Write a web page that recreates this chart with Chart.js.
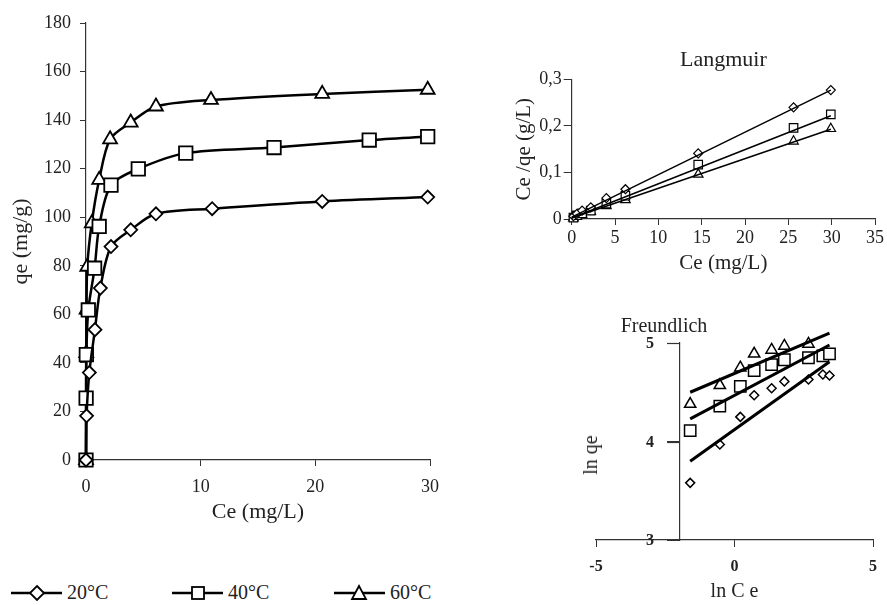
<!DOCTYPE html>
<html>
<head>
<meta charset="utf-8">
<script src="https://cdn.jsdelivr.net/npm/chart.js@4.4.1/dist/chart.umd.min.js"></script>
<style>
  body { margin: 0; background: #fff; width: 887px; height: 605px; position: relative; overflow: hidden; font-family: "Liberation Serif", serif; color: #222; }
  canvas { position: absolute; }
  #main { left: 0; top: 0; }
  #lang { left: 480px; top: 40px; }
  #freu { left: 560px; top: 300px; }
  .t { position: absolute; transform: translate(-50%, -50%); white-space: nowrap; line-height: 1; }
  .leg { position: absolute; top: 583px; height: 20px; }
  .leg span { position: absolute; left: 56px; top: -1px; font-size: 20px; line-height: 20px; }
</style>
</head>
<body>
<canvas id="main" width="460" height="530"></canvas>
<canvas id="lang" width="407" height="250"></canvas>
<canvas id="freu" width="327" height="305"></canvas>

<div class="t" style="left:664px;top:325px;font-size:20px">Freundlich</div>
<div class="t" style="left:590px;top:455px;font-size:20px;transform:translate(-50%,-50%) rotate(-90deg)">ln qe</div>

<div class="leg" style="left:11px">
  <svg width="52" height="20"><line x1="0" y1="10" x2="51" y2="10" stroke="#000" stroke-width="2.5"/><polygon points="26,3 33,10 26,17 19,10" fill="#fff" stroke="#000" stroke-width="1.8"/></svg>
  <span>20°C</span>
</div>
<div class="leg" style="left:172px">
  <svg width="52" height="20"><line x1="0" y1="10" x2="51" y2="10" stroke="#000" stroke-width="2.5"/><rect x="20" y="4" width="12" height="12" fill="#fff" stroke="#000" stroke-width="1.8"/></svg>
  <span>40°C</span>
</div>
<div class="leg" style="left:334px">
  <svg width="52" height="20"><line x1="0" y1="10" x2="51" y2="10" stroke="#000" stroke-width="2.5"/><polygon points="25,3 32,16 18,16" fill="#fff" stroke="#000" stroke-width="1.8"/></svg>
  <span>60°C</span>
</div>

<script>
// isotherms qe vs Ce
const ce20 = [0, 0.05, 0.29, 0.78, 1.25, 2.18, 3.9, 6.1, 11.0, 20.6, 29.8];
const qe20 = [0, 18.2, 36.0, 53.7, 70.8, 87.9, 94.8, 101.4, 103.5, 106.5, 108.3];
const ce40 = [0, 0.01, 0.03, 0.2, 0.75, 1.15, 2.18, 4.56, 8.7, 16.4, 24.7, 29.8];
const qe40 = [0, 25.5, 43.4, 61.8, 79.0, 96.2, 113.2, 119.9, 126.4, 128.7, 131.8, 133.2];
const ce60 = [0, 0.02, 0.05, 0.11, 0.5, 1.15, 2.1, 3.9, 6.1, 10.9, 20.6, 29.8];
const qe60 = [0, 44, 62, 79.6, 97.5, 115.4, 132.1, 139, 145.6, 148.3, 150.8, 152.5];

// Langmuir Ce/qe vs Ce
const lCe = [0.2, 0.6, 1.2, 2.2, 4.0, 6.2, 14.6, 25.6, 29.9];
const l20 = [0.006, 0.011, 0.018, 0.025, 0.045, 0.064, 0.141, 0.240, 0.277];
const l40 = [0.003, 0.008, 0.012, 0.018, 0.033, 0.050, 0.117, 0.196, 0.225];
const l60 = [0.002, 0.005, 0.010, 0.016, 0.028, 0.041, 0.096, 0.167, 0.194];
const lFitX = [0, 29.9];
const lFit20 = [0.004, 0.277];
const lFit40 = [0.002, 0.222];
const lFit60 = [0.002, 0.193];

// Freundlich ln qe vs ln Ce
const fx = [-1.6, -0.53, 0.21, 0.71, 1.34, 1.8, 2.67, 3.19, 3.43];
const f20 = [3.58, 3.97, 4.25, 4.47, 4.54, 4.61, 4.63, 4.68, 4.67];
const f40 = [4.11, 4.36, 4.56, 4.72, 4.78, 4.83, 4.85, 4.87, 4.89];
const f60 = [4.38, 4.57, 4.75, 4.89, 4.93, 4.97, 4.99];
const fFitX = [-1.6, 3.43];
const fFit20 = [3.80, 4.81];
const fFit40 = [4.23, 4.98];
const fFit60 = [4.50, 5.10];

const serif = "'Liberation Serif', 'Times New Roman', serif";
Chart.defaults.font.family = serif;
Chart.defaults.color = "#222";

const pts = (xs, ys) => ys.map((y, i) => ({ x: xs[i], y }));

function series(xs, ys, style, r, bw, lw, line) {
  return {
    data: pts(xs, ys),
    showLine: line,
    borderColor: "#000",
    borderWidth: lw,
    pointStyle: style,
    pointRadius: r,
    pointBorderWidth: bw,
    pointBackgroundColor: "#fff",
    pointBorderColor: "#000",
    tension: 0.3,
    clip: false
  };
}
function fit(xs, ys, lw) {
  return { data: pts(xs, ys), showLine: true, borderColor: "#000", borderWidth: lw, pointRadius: 0, clip: false };
}
function axis(min, max, step, o) {
  return {
    type: "linear", min, max,
    ticks: { stepSize: step, padding: o.pad, font: o.font || { size: 18 }, callback: o.cb, color: o.tcol || "#222" },
    grid: { display: true, drawOnChartArea: false, tickLength: o.tl, color: "#333" },
    border: { color: "#333", width: 1.2 },
    title: o.title ? { display: true, text: o.title, font: { size: o.tsize || 21 }, padding: o.tpad } : { display: false },
    position: o.pos,
    afterFit: s => { if (o.w) s.width = o.w; if (o.h) s.height = o.h; }
  };
}
const base = {
  responsive: false,
  animation: false,
  plugins: { legend: { display: false }, tooltip: { enabled: false } }
};

new Chart(main, {
  type: "scatter",
  data: {
    datasets: [
      series(ce20, qe20, "rectRot", 6.5, 1.8, 2.5, true),
      series(ce40, qe40, "rect", 9.5, 1.8, 2.5, true),
      series(ce60, qe60, "triangle", 8, 1.8, 2.5, true)
    ]
  },
  options: {
    ...base,
    layout: { padding: { top: 23, right: 30 } },
    scales: {
      x: axis(0, 30, 10, { pad: 10, tl: 6, h: 70, title: "Ce (mg/L)", tsize: 22, tpad: { top: 0, bottom: 5 } }),
      y: axis(0, 180, 20, { pad: 9, tl: 6, w: 86, title: "qe (mg/g)", tsize: 22, tpad: { top: 8, bottom: 0 } })
    }
  }
});

new Chart(lang, {
  type: "scatter",
  data: {
    datasets: [
      fit(lFitX, lFit20, 1.5), fit(lFitX, lFit40, 1.5), fit(lFitX, lFit60, 1.5),
      series(lCe, l20, "rectRot", 4.5, 1.2, 1.5, false),
      series(lCe, l40, "rect", 6, 1.2, 1.5, false),
      series(lCe, l60, "triangle", 5.5, 1.2, 1.5, false)
    ]
  },
  options: {
    ...base,
    layout: { padding: { right: 12 } },
    plugins: {
      ...base.plugins,
      title: { display: true, text: "Langmuir", fullSize: false, color: "#222", font: { size: 22, weight: "normal" }, padding: { top: 7, bottom: 6 } }
    },
    scales: {
      x: axis(0, 35, 5, { pad: 2, tl: 6, h: 71, title: "Ce (mg/L)", tpad: { top: 0, bottom: 14 } }),
      y: axis(0, 0.3, 0.1, { pad: 2, tl: 8, w: 91.7, title: "Ce /qe (g/L)", tpad: { top: 32, bottom: 0 },
        cb: v => v === 0 ? "0" : v.toFixed(1).replace(".", ",") })
    }
  }
});

// y axis crosses at ln Ce = -2: tick marks and labels are put left of the crossing here
const crossLabels = {
  id: "crossLabels",
  afterDraw(chart) {
    const { ctx, scales: { x, y } } = chart;
    const ax = x.getPixelForValue(-2);
    ctx.save();
    ctx.strokeStyle = "#333";
    ctx.lineWidth = 1.2;
    ctx.font = "bold 16px " + serif;
    ctx.fillStyle = "#222";
    ctx.textAlign = "right";
    ctx.textBaseline = "middle";
    y.ticks.forEach(t => {
      const py = Math.round(y.getPixelForValue(t.value)) + 0.5;
      if (t.value > 3) {
        ctx.beginPath();
        ctx.moveTo(ax - 12, py);
        ctx.lineTo(ax, py);
        ctx.stroke();
      }
      ctx.fillText(String(t.value), ax - 25, py);
    });
    ctx.restore();
  }
};

const bold = { size: 16, weight: "bold" };
new Chart(freu, {
  type: "scatter",
  data: {
    datasets: [
      fit(fFitX, fFit20, 3), fit(fFitX, fFit40, 3), fit(fFitX, fFit60, 3),
      series(fx, f20, "rectRot", 4.5, 1.5, 1.5, false),
      series(fx, f40, "rect", 8, 1.5, 1.5, false),
      series(fx, f60, "triangle", 6.5, 1.5, 1.5, false)
    ]
  },
  options: {
    ...base,
    layout: { padding: { left: 36, right: 5, top: 43 } },
    scales: {
      x: axis(-5, 5, 5, { pad: 10, tl: 7, h: 65, font: bold, title: "ln C e", tsize: 20, tpad: { top: 0, bottom: 1 } }),
      y: axis(3, 5, 1, { pad: 13, tl: 12, font: bold, pos: { x: -2 }, tcol: "rgba(0,0,0,0)" })
    }
  },
  plugins: [crossLabels]
});
</script>
</body>
</html>
